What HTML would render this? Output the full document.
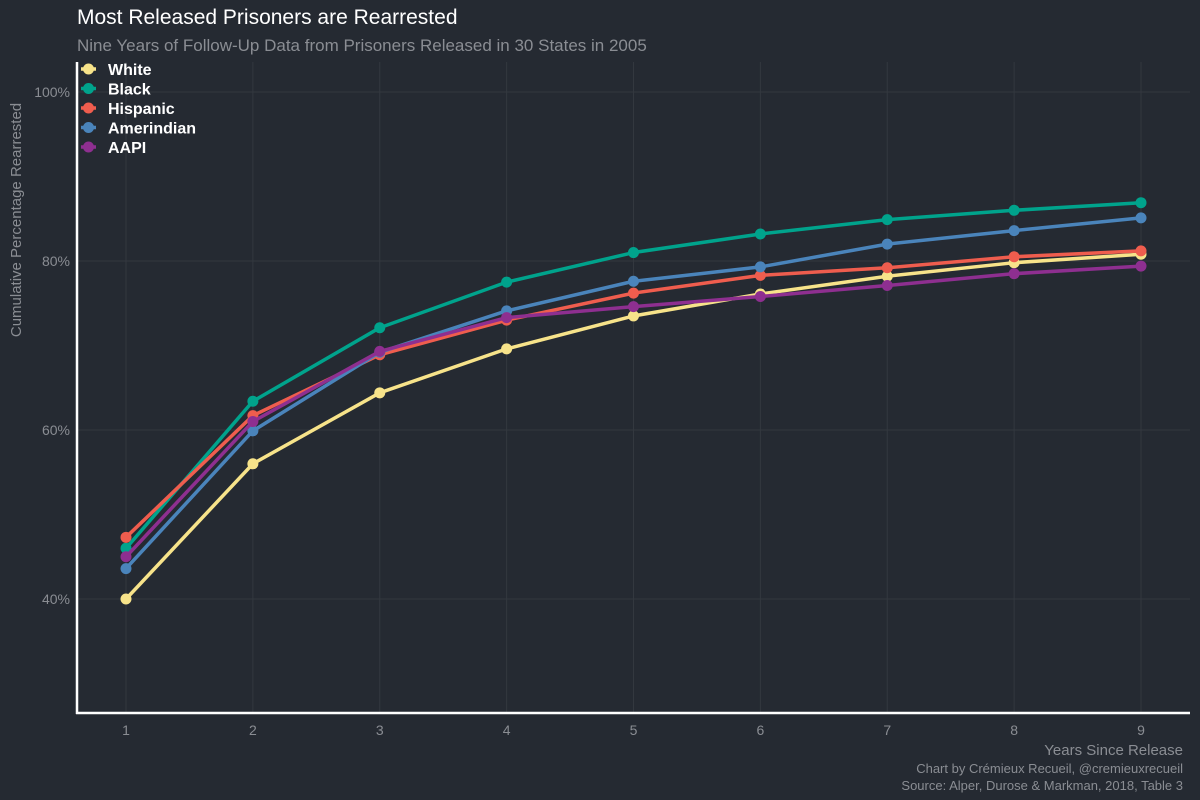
<!DOCTYPE html>
<html><head><meta charset="utf-8"><style>
body{margin:0;background:#252a32;width:1200px;height:800px;overflow:hidden;font-family:"Liberation Sans",sans-serif}
</style></head><body>
<svg id="chart" width="1200" height="800" xmlns="http://www.w3.org/2000/svg" style="position:absolute;left:0;top:0">
<rect width="1200" height="800" fill="#252a32"/>
<text x="77" y="24" font-size="21" fill="#ffffff">Most Released Prisoners are Rearrested</text>
<text x="77" y="51" font-size="17" fill="#8a8d93">Nine Years of Follow-Up Data from Prisoners Released in 30 States in 2005</text>
<text transform="translate(21,220) rotate(-90)" text-anchor="middle" font-size="15" fill="#8a8d93">Cumulative Percentage Rearrested</text>
<text x="1183" y="755" text-anchor="end" font-size="15" fill="#8a8d93">Years Since Release</text>
<text x="1183" y="773" text-anchor="end" font-size="13" fill="#8a8d93">Chart by Crémieux Recueil, @cremieuxrecueil</text>
<text x="1183" y="790" text-anchor="end" font-size="13" fill="#8a8d93">Source: Alper, Durose &amp; Markman, 2018, Table 3</text>
<g id="grid"></g><g id="series"></g><g id="axes"></g><g id="legend"></g>
</svg>
<script>
const years=[1,2,3,4,5,6,7,8,9];
const yTicks=[40,60,80,100];
const seriesNames=["White","Black","Hispanic","Amerindian","AAPI"];
const seriesColors=["#f7e38a","#00a38c","#ef5d4e","#4a84bb","#8e2f90"];
const white=[40.0,56.0,64.4,69.6,73.5,76.1,78.2,79.8,80.8];
const black=[46.0,63.4,72.1,77.5,81.0,83.2,84.9,86.0,86.9];
const hispanic=[47.3,61.7,68.9,73.0,76.2,78.3,79.2,80.5,81.2];
const amerindian=[43.6,59.9,69.2,74.1,77.6,79.3,82.0,83.6,85.1];
const aapi=[45.0,61.0,69.3,73.3,74.6,75.8,77.1,78.5,79.4];
const NS="http://www.w3.org/2000/svg";
const X=v=>126+(v-1)*126.875;
const Y=v=>599-(v-40)*8.45;
function mk(t,a,p){const e=document.createElementNS(NS,t);for(const k in a)e.setAttribute(k,a[k]);p.appendChild(e);return e;}
const grid=document.getElementById('grid'),axes=document.getElementById('axes'),ser=document.getElementById('series'),leg=document.getElementById('legend');
years.forEach(y=>{const l=mk('line',{x1:X(y),x2:X(y),y1:62,y2:713,stroke:'#33383f','stroke-width':1},grid);


const t=mk('text',{x:X(y),y:735,'text-anchor':'middle','font-size':14,fill:'#8a8d93'},axes);t.textContent=y;

});
yTicks.forEach(v=>{const l=mk('line',{x1:77,x2:1190,y1:Y(v),y2:Y(v),stroke:'#33383f','stroke-width':1},grid);


const t=mk('text',{x:70,y:Y(v)+5,'text-anchor':'end','font-size':14,fill:'#8a8d93'},axes);t.textContent=v+'%';

});
const ya=mk('line',{x1:77,x2:77,y1:62,y2:714,stroke:'#fff','stroke-width':2.5},axes);


const xa=mk('line',{x1:76,x2:1190,y1:713,y2:713,stroke:'#fff','stroke-width':2.5},axes);


[white,black,hispanic,amerindian,aapi].forEach((d,i)=>{const c=seriesColors[i];
const g=mk('g',{},ser);


const p=mk('polyline',{points:d.map((v,j)=>X(years[j])+','+Y(v)).join(' '),fill:'none',stroke:c,'stroke-width':3.5},g);


d.forEach((v,j)=>{const pt=mk('circle',{cx:X(years[j]),cy:Y(v),r:5.5,fill:c},g);

});
const lg=mk('g',{},leg);


const ly=69+i*19.5;
mk('line',{x1:81,x2:96,y1:ly,y2:ly,stroke:c,'stroke-width':3.5},lg);
mk('circle',{cx:88.5,cy:ly,r:5.5,fill:c},lg);
const lt=mk('text',{x:108,y:ly+6,'font-size':16,'font-weight':'bold',fill:'#fff'},lg);lt.textContent=seriesNames[i];});
</script>
</body></html>
